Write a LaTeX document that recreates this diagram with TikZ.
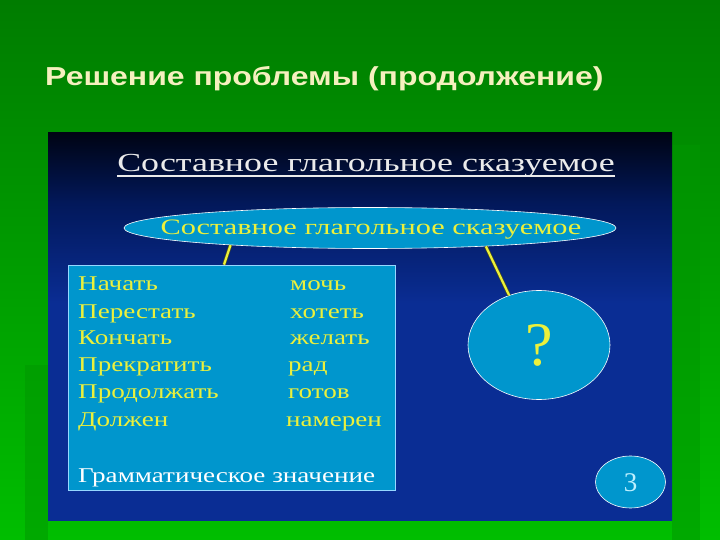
\documentclass[tikz,border=0pt]{standalone}
\usepackage{fontspec}
\setmainfont{Liberation Serif}
\newfontfamily\acad[FakeStretch=1.38]{Liberation Serif}
\newfontfamily\acadb[FakeStretch=1.29]{Liberation Serif}
\newfontfamily\headf[FakeStretch=1.23]{Liberation Sans}
\usetikzlibrary{shapes.geometric,calc}
\definecolor{gtop}{RGB}{0,124,0}
\definecolor{gbot}{RGB}{0,190,0}
\definecolor{gshade}{RGB}{0,150,0}
\definecolor{pblack}{RGB}{0,4,20}
\definecolor{pmid}{RGB}{2,24,90}
\definecolor{pblue}{RGB}{10,45,148}
\definecolor{cyanf}{RGB}{0,150,205}
\definecolor{boxedge}{RGB}{150,215,255}
\definecolor{yel}{RGB}{235,240,60}
\definecolor{titlec}{RGB}{235,235,235}
\definecolor{headc}{RGB}{245,240,190}
\definecolor{numc}{RGB}{190,240,255}
\definecolor{olivec}{RGB}{90,90,20}
\pgfdeclareverticalshading{panelshade}{100bp}{color(0bp)=(pblue); color(25bp)=(pblue); color(53bp)=(pblue); color(66bp)=(pmid); color(75bp)=(pblack); color(100bp)=(pblack)}
\tikzset{
  rowtext/.style={anchor=base west, inner sep=0, text=yel, font=\acadb\fontsize{21}{21}\selectfont},
  conn/.style={draw=olivec, double=yel, double distance=2.2pt, line width=0.6pt},
  bubble/.style={ellipse, draw=white, line width=0.6pt, fill=cyanf, inner sep=0}
}
\begin{document}
\begin{tikzpicture}[x=1pt,y=-1pt]
\useasboundingbox (0,0) rectangle (720,540);
% green background
\fill[top color=gtop, bottom color=gbot] (0,0) rectangle (720,540);
\fill[gshade, opacity=0.5] (672,145) rectangle (700,540);
\fill[gshade, opacity=0.5] (25,365) rectangle (48,540);
% panel
\shade[shading=panelshade] (48,133) rectangle (672,520);
% heading
\node[anchor=base west, inner sep=0, text=headc, font=\headf\bfseries\fontsize{26}{26}\selectfont] (head) at (45,86) {Решение проблемы (продолжение)};
% panel title
\node[anchor=base, inner sep=0, text=titlec, font=\acad\fontsize{26}{26}\selectfont] (title) at (366,172) {Составное глагольное сказуемое};
\draw[titlec, line width=1.2pt] ([yshift=-4pt]title.base west) -- ([yshift=-4pt]title.base east);
% top ellipse
\node[bubble, minimum width=492pt, minimum height=41pt] (ell) at (370,228) {};
\node[anchor=base, inner sep=0, text=yel, font=\acad\fontsize{22}{22}\selectfont] (ellt) at (371,235) {Составное глагольное сказуемое};
% box
\node[draw=boxedge, fill=cyanf, line width=0.8pt, minimum width=327pt, minimum height=225pt, inner sep=0] (box) at (231.5,377.5) {};
\node[rowtext] (r1) at (78,290) {Начать};
\node[rowtext] (r2) at (78,318) {Перестать};
\node[rowtext] (r3) at (78,344) {Кончать};
\node[rowtext] (r4) at (78,371) {Прекратить};
\node[rowtext] (r5) at (78,398) {Продолжать};
\node[rowtext] (r6) at (78,426) {Должен};
\node[rowtext] (c1) at (290,290) {мочь};
\node[rowtext] (c2) at (290,318) {хотеть};
\node[rowtext] (c3) at (290,344) {желать};
\node[rowtext] (c4) at (288,371) {рад};
\node[rowtext] (c5) at (288,398) {готов};
\node[rowtext] (c6) at (286,426) {намерен};
\node[rowtext, text=white] (gz) at (78,482) {Грамматическое значение};
% question ellipse
\node[bubble, minimum width=142pt, minimum height=109pt] (q) at (539,345) {};
\node[inner sep=0, text=yel, font=\fontsize{62}{62}\selectfont] (qt) at (539,345) {?};
% page number
\node[bubble, minimum width=70pt, minimum height=52pt] (num) at (630.5,482) {};
\node[inner sep=0, text=numc, font=\fontsize{27}{27}\selectfont] (numt) at (630.5,483) {3};
% connectors
\draw[conn] (ell.187) -- ($(box.north)+(-7.5,0)$);
\draw[conn] (ell.-9.5) -- (q.121);
\end{tikzpicture}
\end{document}
